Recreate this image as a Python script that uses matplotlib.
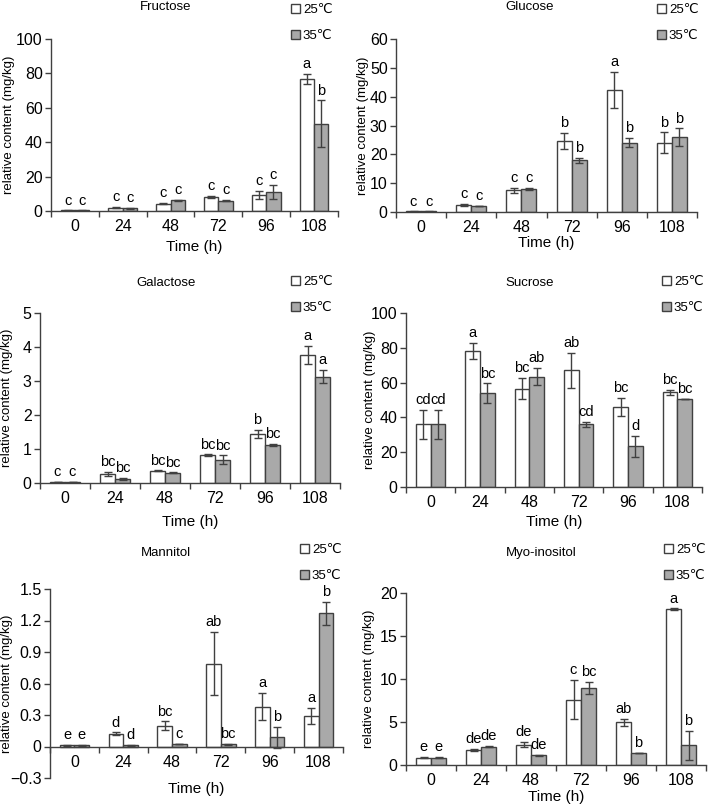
import numpy as np
import matplotlib.pyplot as plt
from matplotlib.patches import Patch

plt.rcParams['font.family'] = ['Liberation Sans', 'DejaVu Sans']

times = ["0", "24", "48", "72", "96", "108"]

fru_25 = [0.3, 2.0, 4.3, 8.0, 9.5, 76.8]
fru_25_err = [0.1, 0.3, 0.4, 0.6, 2.3, 3.0]
fru_35 = [0.3, 1.5, 6.2, 6.0, 10.9, 50.7]
fru_35_err = [0.1, 0.2, 0.2, 0.3, 4.2, 13.6]
fru_25_lab = ["c", "c", "c", "c", "c", "a"]
fru_35_lab = ["c", "c", "c", "c", "c", "b"]

glu_25 = [0.2, 2.4, 7.5, 24.6, 42.3, 24.1]
glu_25_err = [0.05, 0.3, 0.8, 2.8, 6.3, 3.5]
glu_35 = [0.2, 2.1, 8.0, 17.9, 24.1, 26.0]
glu_35_err = [0.05, 0.1, 0.3, 0.8, 1.5, 3.0]
glu_25_lab = ["c", "c", "c", "b", "a", "b"]
glu_35_lab = ["c", "c", "c", "b", "b", "b"]

gal_25 = [0.03, 0.26, 0.36, 0.82, 1.45, 3.76]
gal_25_err = [0.01, 0.06, 0.01, 0.02, 0.12, 0.27]
gal_35 = [0.03, 0.12, 0.30, 0.69, 1.13, 3.13]
gal_35_err = [0.01, 0.02, 0.01, 0.12, 0.03, 0.19]
gal_25_lab = ["c", "bc", "bc", "bc", "b", "a"]
gal_35_lab = ["c", "bc", "bc", "bc", "bc", "a"]

suc_25 = [36.0, 78.2, 56.5, 67.0, 46.0, 54.5]
suc_25_err = [8.5, 4.5, 6.0, 10.0, 5.0, 1.5]
suc_35 = [36.0, 54.0, 63.5, 36.0, 23.5, 50.5]
suc_35_err = [8.5, 5.5, 5.0, 1.5, 6.0, 0.0]
suc_25_lab = ["cd", "a", "bc", "ab", "bc", "bc"]
suc_35_lab = ["cd", "bc", "ab", "cd", "d", "bc"]

man_25 = [0.01, 0.12, 0.20, 0.79, 0.38, 0.29]
man_25_err = [0.005, 0.015, 0.04, 0.30, 0.13, 0.08]
man_35 = [0.01, 0.01, 0.025, 0.02, 0.09, 1.27]
man_35_err = [0.005, 0.003, 0.003, 0.005, 0.10, 0.11]
man_25_lab = ["e", "d", "bc", "ab", "a", "a"]
man_35_lab = ["e", "d", "c", "bc", "b", "b"]

myo_25 = [0.85, 1.75, 2.35, 7.6, 4.95, 18.1]
myo_25_err = [0.05, 0.15, 0.3, 2.3, 0.4, 0.1]
myo_35 = [0.85, 2.15, 1.15, 9.0, 1.4, 2.3]
myo_35_err = [0.05, 0.05, 0.05, 0.7, 0.05, 1.7]
myo_25_lab = ["e", "de", "de", "c", "ab", "a"]
myo_35_lab = ["e", "de", "de", "bc", "b", "b"]

W, H = 709, 807
fig = plt.figure(figsize=(W / 100, H / 100), dpi=100)

edge = '#404040'
gray = '#a9a9a9'


def box(l, r, t, b):
    return [l / W, 1 - b / H, (r - l) / W, (b - t) / H]


panels = [
    # name, data..., ylim, yticks, yticklabels, axes box, title x, title y, legend x, legend y, ylabel x, xlabel y
    ("Fructose", fru_25, fru_25_err, fru_35, fru_35_err, fru_25_lab, fru_35_lab,
     (0, 100), np.arange(0, 101, 20), None, box(51, 338, 39, 211), 166, 7, 291, 12, -0.125, -0.169),
    ("Glucose", glu_25, glu_25_err, glu_35, glu_35_err, glu_25_lab, glu_35_lab,
     (0, 60), np.arange(0, 61, 10), None, box(396, 697, 39, 212), 530, 7, 657, 12, -0.09, -0.139),
    ("Galactose", gal_25, gal_25_err, gal_35, gal_35_err, gal_25_lab, gal_35_lab,
     (0, 5), np.arange(0, 6, 1), None, box(40, 340, 313, 483), 166, 283, 291, 284, -0.09, -0.188),
    ("Sucrose", suc_25, suc_25_err, suc_35, suc_35_err, suc_25_lab, suc_35_lab,
     (0, 100), np.arange(0, 101, 20), None, box(406, 702, 313, 487), 530, 283, 662, 284, -0.101, -0.161),
    ("Mannitol", man_25, man_25_err, man_35, man_35_err, man_25_lab, man_35_lab,
     (-0.3, 1.5), np.arange(-0.3, 1.51, 0.3), ["\u22120.3", "0", "0.3", "0.6", "0.9", "1.2", "1.5"],
     box(50, 343, 589, 778), 166, 553, 300, 552, -0.126, -0.021),
    ("Myo-inositol", myo_25, myo_25_err, myo_35, myo_35_err, myo_25_lab, myo_35_lab,
     (0, 20), np.arange(0, 21, 5), None, box(406, 706, 593, 765), 541, 553, 664, 552, -0.103, -0.145),
]

x = np.arange(len(times))
w = 0.3

for (name, v25, e25, v35, e35, l25, l35, ylim, yt, ytl, rect,
     tx, ty, lx, ly, ylx, xly) in panels:
    ax = fig.add_axes(rect)
    ek = dict(ecolor=edge, elinewidth=1, capsize=3, capthick=1)
    ax.bar(x - w / 2, v25, w, yerr=e25, color='white', edgecolor=edge, linewidth=1, error_kw=ek)
    ax.bar(x + w / 2, v35, w, yerr=e35, color=gray, edgecolor=edge, linewidth=1, error_kw=ek)

    for i in range(len(times)):
        ax.annotate(l25[i], (x[i] - w / 2, v25[i] + e25[i]), xytext=(0, 2),
                    textcoords='offset points', ha='center', va='bottom', fontsize=10.5)
        ax.annotate(l35[i], (x[i] + w / 2, v35[i] + e35[i]), xytext=(0, 2),
                    textcoords='offset points', ha='center', va='bottom', fontsize=10.5)

    ax.set_xlim(-0.5, len(times) - 0.5)
    ax.set_ylim(*ylim)
    ax.set_yticks(yt)
    if ytl is not None:
        ax.set_yticklabels(ytl)
    ax.set_xticks(np.arange(-0.5, len(times)), minor=False)
    ax.set_xticklabels([])
    ax.set_xticks(x, minor=True)
    ax.set_xticklabels(times, minor=True)
    ax.tick_params(axis='x', which='minor', length=0, pad=6, labelsize=11.5)
    ax.tick_params(axis='x', which='major', length=4, width=1, color=edge, direction='out')
    ax.tick_params(axis='y', length=4, width=1, color=edge, direction='out', labelsize=11.5, pad=2)

    for s in ['top', 'right']:
        ax.spines[s].set_visible(False)
    for s in ['left', 'bottom']:
        ax.spines[s].set_color(edge)
        ax.spines[s].set_linewidth(1)
    if ylim[0] < 0:
        ax.spines['bottom'].set_position(('data', 0))

    ax.set_ylabel("relative content (mg/kg)", fontsize=9.5)
    ax.yaxis.set_label_coords(ylx, 0.5)
    ax.set_xlabel("Time (h)", fontsize=11)
    ax.xaxis.set_label_coords(0.5, xly)

    fig.text(tx / W, 1 - ty / H, name, ha='center', va='center', fontsize=9.5)

    handles = [Patch(facecolor='white', edgecolor=edge, label='25\u2103'),
               Patch(facecolor=gray, edgecolor=edge, label='35\u2103')]
    fig.legend(handles=handles, loc='upper left', bbox_to_anchor=(lx / W, 1 - (ly - 8) / H),
               frameon=False, fontsize=9.5, handlelength=0.7, handleheight=0.7,
               handletextpad=0.2, labelspacing=1.05, borderpad=0, borderaxespad=0)

fig.savefig("out.png", dpi=100)
